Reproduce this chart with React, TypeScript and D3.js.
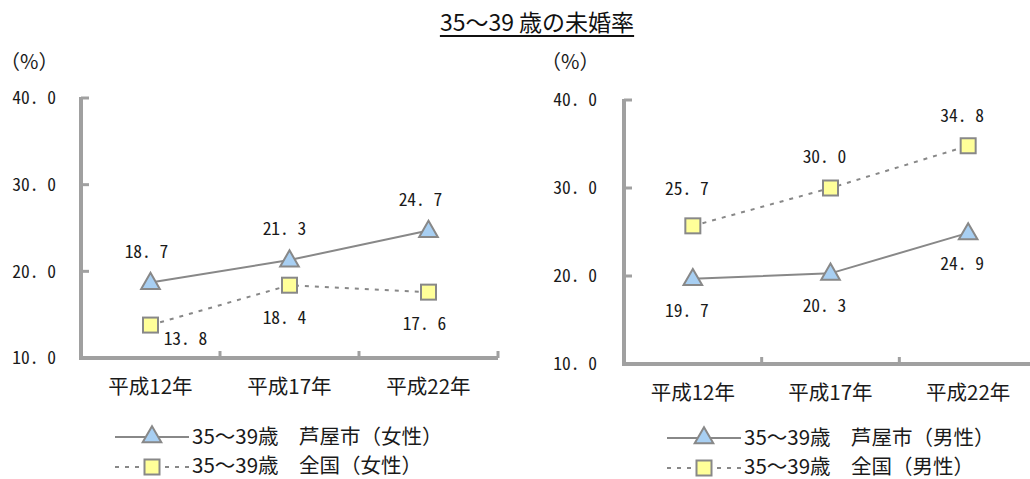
import React, { useEffect, useRef } from "react";
import * as d3 from "d3";

const categories = ["平成12年", "平成17年", "平成22年"];
const yTicks = [10, 20, 30, 40];

const ashiyaFemale = [18.7, 21.3, 24.7];
const nationalFemale = [13.8, 18.4, 17.6];
const ashiyaMale = [19.7, 20.3, 24.9];
const nationalMale = [25.7, 30.0, 34.8];

const titleText = "35～39 歳の未婚率";
const unitText = "（%）";
const legendFemale = ["35～39歳　芦屋市（女性）", "35～39歳　全国（女性）"];
const legendMale = ["35～39歳　芦屋市（男性）", "35～39歳　全国（男性）"];

const FONT = "'Noto Sans CJK JP', 'Noto Sans', sans-serif";
const HALF_WIDTH = '"hwid" 1';
const AXIS = "#a0a0a0";
const LINE = "#888888";
const TRI_FILL = "#a8cff2";
const SQ_FILL = "#ffff99";
const TEXT = "#1a1a1a";

type Panel = {
  x0: number;
  x1: number;
  yTop: number;
  yBottom: number;
  tickX: number;
  unitX: number;
  triangle: number[];
  square: number[];
  triLabel: [number, number][];
  sqLabel: [number, number][];
  legend: string[];
  legendX: number;
  legendY: number;
  catY: number;
};

const fmt = (v: number) => d3.format(".1f")(v).replace(".", ". ");

function drawPanel(g: d3.Selection<SVGGElement, unknown, null, undefined>, p: Panel) {
  const x = d3.scaleBand<string>().domain(categories).range([p.x0, p.x1]).padding(0);
  const y = d3.scaleLinear().domain([10, 40]).range([p.yBottom, p.yTop]);
  const cx = (c: string) => (x(c) as number) + x.bandwidth() / 2;

  // y axis with inward tick stubs
  g.append("line").attr("x1", p.x0).attr("x2", p.x0).attr("y1", p.yTop - 1).attr("y2", p.yBottom + 2)
    .attr("stroke", AXIS).attr("stroke-width", 4);
  yTicks.forEach((t) => {
    g.append("line").attr("x1", p.x0).attr("x2", p.x0 + 8).attr("y1", y(t)).attr("y2", y(t))
      .attr("stroke", AXIS).attr("stroke-width", 3);
    g.append("text").attr("x", p.tickX).attr("y", y(t)).attr("dy", "0.36em").attr("text-anchor", "end")
      .attr("font-size", 17.5).attr("fill", TEXT).style("font-feature-settings", HALF_WIDTH).text(fmt(t));
  });
  // x axis with band-boundary ticks
  g.append("line").attr("x1", p.x0 - 2).attr("x2", p.x1).attr("y1", p.yBottom).attr("y2", p.yBottom)
    .attr("stroke", AXIS).attr("stroke-width", 4);
  categories.forEach((c) => {
    const bx = (x(c) as number) + x.bandwidth();
    g.append("line").attr("x1", bx).attr("x2", bx).attr("y1", p.yBottom).attr("y2", p.yBottom - 7)
      .attr("stroke", AXIS).attr("stroke-width", 3);
    g.append("text").attr("x", cx(c)).attr("y", p.catY).attr("dy", "0.36em").attr("text-anchor", "middle")
      .attr("font-size", 20.5).attr("fill", TEXT).text(c);
  });

  g.append("text").attr("x", p.unitX).attr("y", 62).attr("dy", "0.36em")
    .attr("font-size", 20).attr("fill", TEXT).text(unitText);

  const line = d3.line<number>().x((_, i) => cx(categories[i])).y((d) => y(d));

  g.append("path").attr("d", line(p.square) as string).attr("fill", "none").attr("stroke", LINE)
    .attr("stroke-width", 2).attr("stroke-dasharray", "4 6");
  g.append("path").attr("d", line(p.triangle) as string).attr("fill", "none").attr("stroke", LINE)
    .attr("stroke-width", 2);

  const tri = d3.symbol().type(d3.symbolTriangle).size(150);
  const drawTri = (px: number, py: number) =>
    g.append("path").attr("d", tri() as string).attr("transform", `translate(${px},${py + 1})`)
      .attr("fill", TRI_FILL).attr("stroke", LINE).attr("stroke-width", 2);
  const drawSq = (px: number, py: number) =>
    g.append("rect").attr("x", px - 7.5).attr("y", py - 7.5).attr("width", 15).attr("height", 15)
      .attr("fill", SQ_FILL).attr("stroke", LINE).attr("stroke-width", 2);

  p.square.forEach((v, i) => drawSq(cx(categories[i]), y(v)));
  p.triangle.forEach((v, i) => drawTri(cx(categories[i]), y(v)));

  const label = (v: number, i: number, off: [number, number]) =>
    g.append("text").attr("x", cx(categories[i]) + off[0]).attr("y", y(v) + off[1]).attr("dy", "0.36em")
      .attr("text-anchor", "middle").attr("font-size", 17.5).attr("fill", TEXT)
      .style("font-feature-settings", HALF_WIDTH).text(fmt(v));
  p.triangle.forEach((v, i) => label(v, i, p.triLabel[i]));
  p.square.forEach((v, i) => label(v, i, p.sqLabel[i]));

  // legend
  const lx = p.legendX;
  const ly = p.legendY;
  g.append("line").attr("x1", lx).attr("x2", lx + 74).attr("y1", ly).attr("y2", ly)
    .attr("stroke", LINE).attr("stroke-width", 2);
  drawTri(lx + 37, ly - 1);
  g.append("text").attr("x", lx + 77).attr("y", ly).attr("dy", "0.36em")
    .attr("font-size", 20.5).attr("fill", TEXT).text(p.legend[0]);
  g.append("line").attr("x1", lx).attr("x2", lx + 74).attr("y1", ly + 30).attr("y2", ly + 30)
    .attr("stroke", LINE).attr("stroke-width", 2).attr("stroke-dasharray", "4 6");
  drawSq(lx + 37, ly + 30);
  g.append("text").attr("x", lx + 77).attr("y", ly + 29).attr("dy", "0.36em")
    .attr("font-size", 20.5).attr("fill", TEXT).text(p.legend[1]);
}

export default function App() {
  const ref = useRef<SVGSVGElement | null>(null);
  useEffect(() => {
    const svg = d3.select(ref.current as SVGSVGElement);
    svg.selectAll("*").remove();
    svg.append("rect").attr("width", 1030).attr("height", 479).attr("fill", "#fff");

    const title = svg.append("text").attr("x", 537).attr("y", 23).attr("dy", "0.36em")
      .attr("text-anchor", "middle").attr("font-size", 23)
      .attr("fill", "#111").text(titleText);
    const bb = (title.node() as SVGTextElement).getBBox();
    svg.append("line").attr("x1", bb.x).attr("x2", bb.x + bb.width).attr("y1", 36).attr("y2", 36)
      .attr("stroke", "#111").attr("stroke-width", 2);

    drawPanel(svg.append("g"), {
      x0: 81, x1: 498, yTop: 98, yBottom: 358, tickX: 56, unitX: 0,
      triangle: ashiyaFemale, square: nationalFemale,
      triLabel: [[-4, -31], [-5, -31], [-8, -31]],
      sqLabel: [[35, 14], [-5, 32], [-4, 32]],
      legend: legendFemale, legendX: 115, legendY: 437, catY: 387,
    });
    drawPanel(svg.append("g"), {
      x0: 624, x1: 1037, yTop: 100, yBottom: 364, tickX: 597, unitX: 541,
      triangle: ashiyaMale, square: nationalMale,
      triLabel: [[-6, 32], [-6, 32], [-6, 31]],
      sqLabel: [[-6, -37], [-6, -31], [-6, -30]],
      legend: legendMale, legendX: 667, legendY: 438, catY: 393,
    });
  }, []);
  return (
    <svg ref={ref} width={1030} height={479}
      style={{ position: "absolute", left: 0, top: 0, display: "block", fontFamily: FONT }} />
  );
}
